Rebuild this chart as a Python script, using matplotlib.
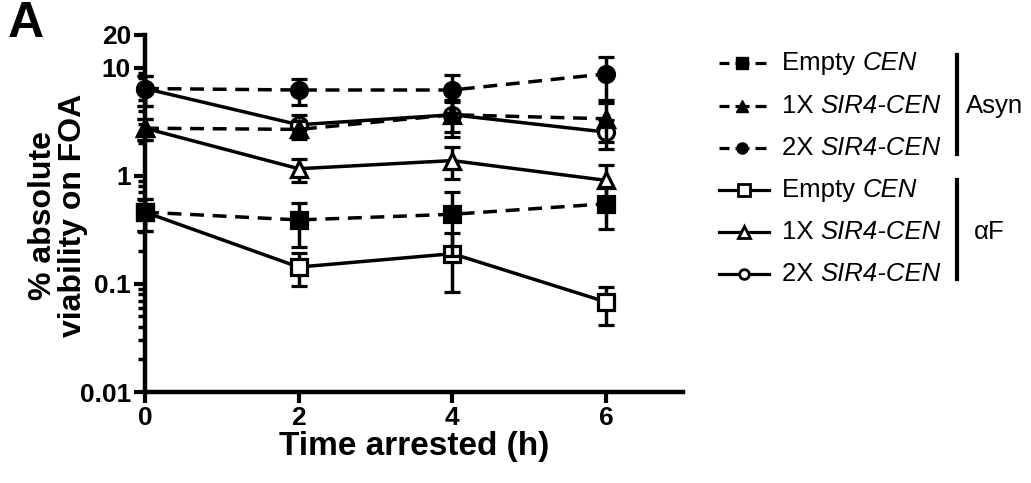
import matplotlib
matplotlib.use('Agg')
import matplotlib.pyplot as plt
from matplotlib.ticker import FixedLocator, NullFormatter, FixedFormatter

# ---------------- data ----------------
time_h = [0, 2, 4, 6]

empty_asyn = [0.46, 0.39, 0.44, 0.55]
empty_asyn_err = [0.15, 0.17, 0.26, 0.23]
sir1x_asyn = [2.75, 2.68, 3.66, 3.36]
sir1x_asyn_err = [0.6, 0.5, 1.1, 1.3]
sir2x_asyn = [6.4, 6.2, 6.2, 8.75]
sir2x_asyn_err = [2.0, 1.7, 2.4, 3.75]

empty_af = [0.46, 0.143, 0.19, 0.068]
empty_af_err = [0.15, 0.048, 0.106, 0.026]
sir1x_af = [2.75, 1.16, 1.38, 0.905]
sir1x_af_err = [0.6, 0.28, 0.45, 0.34]
sir2x_af = [6.4, 2.96, 3.66, 2.53]
sir2x_af_err = [2.0, 0.7, 1.4, 0.77]

y_ticks = [0.01, 0.1, 1, 10, 20]
y_tick_labels = ['0.01', '0.1', '1', '10', '20']
x_ticks = [0, 2, 4, 6]

legend_labels = [('Empty ', 'CEN'), ('1X ', 'SIR4-CEN'), ('2X ', 'SIR4-CEN'),
                 ('Empty ', 'CEN'), ('1X ', 'SIR4-CEN'), ('2X ', 'SIR4-CEN')]
group_labels = ['Asyn', 'αF']

# ---------------- style ----------------
BOLD = ['Liberation Sans', 'DejaVu Sans']
REG = ['Liberation Sans', 'DejaVu Sans']
plt.rcParams['font.family'] = REG

W, H = 1031, 483
fig = plt.figure(figsize=(W / 100, H / 100), dpi=100)
ax = fig.add_axes([145 / W, 1 - 392 / H, (683 - 145) / W, (392 - 35) / H])

LW = 2.5
DASH = (0, (4.0, 2.5))
MS = 11.5
common = dict(color='black', elinewidth=LW, capsize=6, capthick=LW,
              markeredgewidth=2.3, markersize=MS, clip_on=False, lw=LW)

# alpha-factor series drawn first, asynchronous series on top
series = [
    (empty_af, empty_af_err, 's', 'white', '-', 3),
    (sir1x_af, sir1x_af_err, '^', 'white', '-', 3),
    (sir2x_af, sir2x_af_err, 'o', 'white', '-', 3),
    (empty_asyn, empty_asyn_err, 's', 'black', DASH, 4),
    (sir1x_asyn, sir1x_asyn_err, '^', 'black', DASH, 4),
    (sir2x_asyn, sir2x_asyn_err, 'o', 'black', DASH, 4),
]
for vals, err, mk, fc, ls, z in series:
    ax.errorbar(time_h, vals, yerr=err, marker=mk, markerfacecolor=fc,
                markeredgecolor='black', linestyle=ls, zorder=z, **common)

ax.set_yscale('log')
ax.set_ylim(0.01, 20)
ax.set_xlim(0, 7)
ax.yaxis.set_major_locator(FixedLocator(y_ticks))
ax.yaxis.set_major_formatter(FixedFormatter(y_tick_labels))
minor = [m * 10.0 ** e for e in (-2, -1, 0) for m in range(2, 10)]
ax.yaxis.set_minor_locator(FixedLocator(minor))
ax.yaxis.set_minor_formatter(NullFormatter())
ax.set_xticks(x_ticks)

for s in ('top', 'right'):
    ax.spines[s].set_visible(False)
for s in ('left', 'bottom'):
    ax.spines[s].set_linewidth(3.2)
ax.tick_params(which='major', length=8, width=3, pad=2)
ax.tick_params(which='minor', length=5, width=2.5)
for lab in ax.get_xticklabels() + ax.get_yticklabels():
    lab.set_fontfamily(BOLD)
    lab.set_fontweight('bold')
    lab.set_fontsize(19)

ax.set_xlabel('Time arrested (h)', fontsize=24, fontweight='bold', family=BOLD, va='center')
ax.xaxis.set_label_coords(0.5, -(446 - 392) / 357)
fig.text(58 / W, 1 - 215 / H, '% absolute\nviability on FOA', rotation=90,
         ha='center', va='center', fontsize=23, fontweight='bold',
         family=BOLD, linespacing=0.98)
fig.text(8 / W, 1 - 1 / H, 'A', ha='left', va='top', fontsize=36, fontweight='bold',
         family=['Liberation Sans', 'DejaVu Sans'])

# ---------------- legend (drawn in pixel coordinates) ----------------
lax = fig.add_axes([0, 0, 1, 1])
lax.set_xlim(0, W)
lax.set_ylim(H, 0)
lax.axis('off')

row_y = [63, 106, 148, 190, 232, 274]
leg_markers = ['s', '^', 'o', 's', '^', 'o']
fig.canvas.draw()
renderer = fig.canvas.get_renderer()
for i, (y, mk) in enumerate(zip(row_y, leg_markers)):
    filled = i < 3
    if filled:
        lax.plot([719, 729], [y, y], color='black', lw=2.3, solid_capstyle='butt')
        lax.plot([755, 766], [y, y], color='black', lw=2.3, solid_capstyle='butt')
        lax.plot([735, 749], [y, y], color='black', lw=2.3, solid_capstyle='butt')
        lax.plot([742], [y], marker=mk, color='black', markersize=8)
    else:
        lax.plot([719, 769], [y, y], color='black', lw=2.3)
        ms = 9 if mk != 'o' else 7
        lax.plot([744], [y], marker=mk, markerfacecolor='white', markeredgecolor='black',
                 markeredgewidth=2, markersize=ms)
    plain, ital = legend_labels[i]
    t1 = lax.text(782, y, plain, ha='left', va='center', fontsize=18.5, family=REG)
    bb = t1.get_window_extent(renderer=renderer)
    lax.text(782 + bb.width, y, ital, ha='left', va='center', fontsize=18.5,
             style='italic', family=REG)

lax.plot([957, 957], [55, 154], color='black', lw=3)
lax.plot([957, 957], [180, 279], color='black', lw=3)
lax.text(966, 106, group_labels[0], ha='left', va='center', fontsize=18.5, family=REG)
lax.text(974, 232, group_labels[1], ha='left', va='center', fontsize=18.5, family=REG)

fig.savefig('out.png', dpi=100)
